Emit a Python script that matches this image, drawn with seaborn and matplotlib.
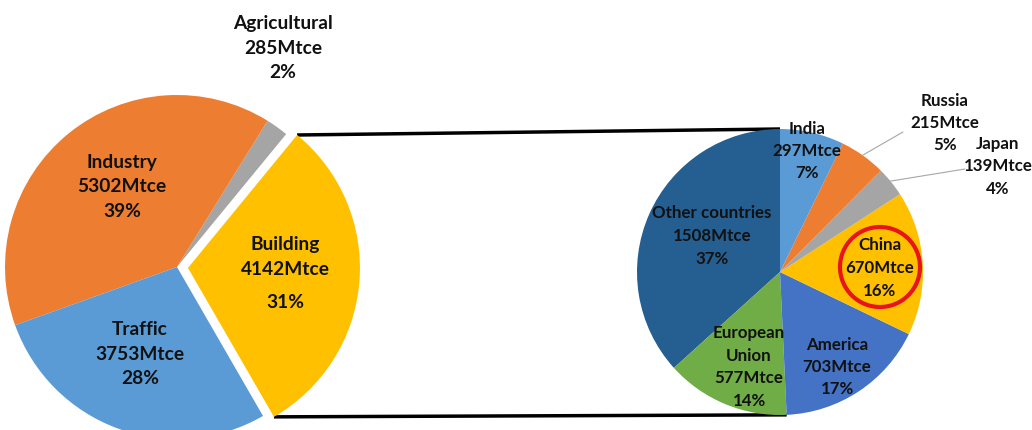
import numpy as np
import matplotlib
matplotlib.use("Agg")
import matplotlib.pyplot as plt
from matplotlib.patches import Circle
import seaborn as sns

# ---- data ----
sector_names = ["Building", "Agricultural", "Industry", "Traffic"]
sector_values = [4142, 285, 5302, 3753]
sector_pct = ["31%", "2%", "39%", "28%"]

country_names = ["Other countries", "European\nUnion", "America", "China", "Japan", "Russia", "India"]
country_values = [1508, 577, 703, 670, 139, 215, 297]
country_pct = ["37%", "14%", "17%", "16%", "4%", "5%", "7%"]

sns.set_theme(style="white")
plt.rcParams['font.family'] = ['Lato', 'DejaVu Sans']

sector_colors = ["#FFC000", "#A5A5A5", "#ED7D31", "#5B9BD5"]
country_colors = ["#255E91", "#70AD47", "#4472C4", "#FFC000", "#A5A5A5", "#ED7D31", "#5B9BD5"]

W, H = 1032, 430
fig = plt.figure(figsize=(W / 100, H / 100), dpi=100)
ax = fig.add_axes([0, 0, 1, 1])

def py(y):
    return H - y

# left pie
lc = (177, py(267))
lr = 172
lw_, _ = ax.pie(sector_values, colors=sector_colors, startangle=-60, counterclock=True,
                center=lc, radius=lr, explode=[11, 0, 0, 0],
                wedgeprops=dict(linewidth=0))

# right pie
rc = (780, py(272))
rr = 143
rw_, _ = ax.pie(country_values, colors=country_colors, startangle=90, counterclock=True,
                center=rc, radius=rr, wedgeprops=dict(linewidth=0))

ax.set_xlim(0, W)
ax.set_ylim(0, H)
ax.set_aspect("equal")
ax.axis("off")

# connector lines from building wedge to right pie
bw = lw_[0]
bcx, bcy = bw.center
t1, t2 = np.deg2rad(bw.theta1), np.deg2rad(bw.theta2)
top_l = (bcx + bw.r * np.cos(t2), bcy + bw.r * np.sin(t2))
bot_l = (bcx + bw.r * np.cos(t1), bcy + bw.r * np.sin(t1))
ow = rw_[0]
eu = rw_[1]
top_r = (rc[0] + rr * np.cos(np.deg2rad(ow.theta1)), rc[1] + rr * np.sin(np.deg2rad(ow.theta1)))
bot_r = (rc[0] + rr * np.cos(np.deg2rad(eu.theta2)), rc[1] + rr * np.sin(np.deg2rad(eu.theta2)))
ax.plot([top_l[0], top_r[0]], [top_l[1], top_r[1]], color="black", lw=2.5, solid_capstyle="butt", zorder=0)
ax.plot([bot_l[0], bot_r[0]], [bot_l[1], bot_r[1]], color="black", lw=2.5, solid_capstyle="butt", zorder=0)

tc = "#111111"
# left labels
left_pos = {"Industry": (122, 187), "Traffic": (140, 354), "Agricultural": (283, 48)}
for n, v, p in zip(sector_names, sector_values, sector_pct):
    if n == "Building":
        ax.text(285, py(257), f"{n}\n{v}Mtce", ha="center", va="center", fontsize=13.8,
                fontweight="bold", color=tc, linespacing=1.55)
        ax.text(285, py(302), p, ha="center", va="center", fontsize=13.8, fontweight="bold", color=tc)
    else:
        x, y = left_pos[n]
        ax.text(x, py(y), f"{n}\n{v}Mtce\n{p}", ha="center", va="center", fontsize=13.8,
                fontweight="bold", color=tc, linespacing=1.55)

# right labels
right_pos = {"Other countries": (712, 236), "European\nUnion": (749, 367), "America": (837, 367),
             "China": (880, 268), "Japan": (998, 166), "Russia": (945, 123), "India": (807, 151)}
for n, v, p in zip(country_names, country_values, country_pct):
    x, y = right_pos[n]
    ax.text(x, py(y), f"{n}\n{v}Mtce\n{p}", ha="center", va="center", fontsize=12.2,
            fontweight="bold", color=tc, linespacing=1.5)

# leader lines
ax.plot([903, 863], [py(132), py(155)], color="#A6A6A6", lw=0.8)
ax.plot([965, 885], [py(169), py(182)], color="#A6A6A6", lw=0.8)

# red circle around China
ax.add_patch(Circle((880, py(267)), 40, fill=False, edgecolor="#E8141B", lw=3))

fig.savefig("out.png", dpi=100)
